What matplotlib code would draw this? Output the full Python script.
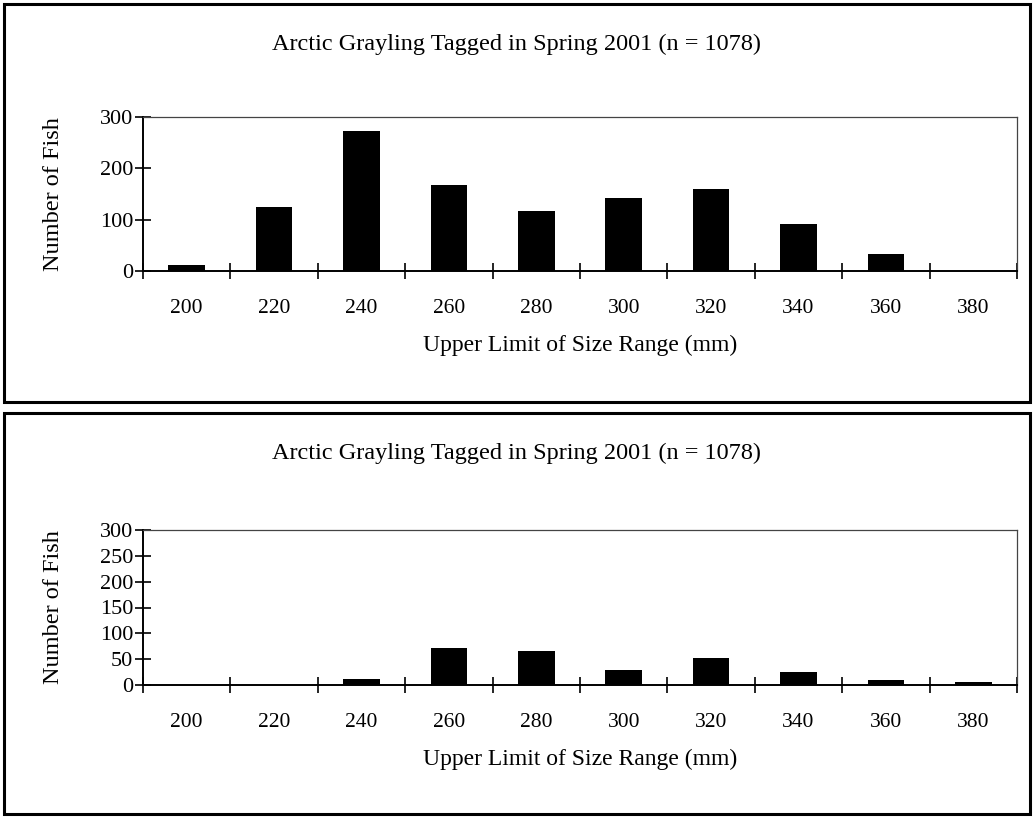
import numpy as np
import matplotlib
matplotlib.use("Agg")
import matplotlib.pyplot as plt
from matplotlib.patches import Rectangle

plt.rcParams["font.family"] = ["Liberation Serif", "DejaVu Serif"]

size_classes = [200, 220, 240, 260, 280, 300, 320, 340, 360, 380]
fish_top = [11, 125, 273, 167, 116, 143, 160, 91, 33, 0]
fish_bottom = [0, 0, 12, 71, 66, 30, 52, 26, 10, 5]
yticks_top = [0, 100, 200, 300]
yticks_bottom = [0, 50, 100, 150, 200, 250, 300]
title = "Arctic Grayling Tagged in Spring 2001 (n = 1078)"
xlabel = "Upper Limit of Size Range (mm)"
ylabel = "Number of Fish"

W, H = 1034, 817


def px(x0, y0, x1, y1):
    # pixel box (top-left origin) -> figure fraction [l, b, w, h]
    return [x0 / W, 1 - y1 / H, (x1 - x0) / W, (y1 - y0) / H]


def draw_panel(fig, box, plot, values, yticks):
    l, b, w, h = px(*box)
    fig.patches.append(Rectangle((l, b), w, h, transform=fig.transFigure,
                                 fill=False, edgecolor="black", linewidth=2.2))
    fig.text(0.5, 1 - (box[1] + 40) / H, title, ha="center", va="center", fontsize=17.5)

    ax = fig.add_axes(px(*plot))
    x = np.arange(len(size_classes))
    ax.bar(x, values, width=0.42, color="black")
    ax.set_xlim(-0.5, len(size_classes) - 0.5)
    ax.set_ylim(0, 300)
    ax.set_yticks(yticks)
    ax.set_xticks(np.arange(len(size_classes) + 1) - 0.5)
    ax.set_xticklabels([])
    ax.set_xticks(x, minor=True)
    ax.set_xticklabels([str(s) for s in size_classes], minor=True)
    ax.tick_params(axis="both", which="major", direction="inout", length=12, width=1.2,
                   labelsize=16, pad=1)
    ax.tick_params(axis="x", which="minor", length=0, labelsize=15.5, pad=20)
    for side in ["left", "bottom"]:
        ax.spines[side].set_linewidth(1.4)
    for side in ["top", "right"]:
        ax.spines[side].set_linewidth(0.9)
        ax.spines[side].set_color("#444444")
    ax.set_xlabel(xlabel, fontsize=17, labelpad=12)
    ax.set_ylabel(ylabel, fontsize=17.5)
    ax.yaxis.set_label_coords(-0.09, 0.5)
    return ax


fig = plt.figure(figsize=(W / 100, H / 100), dpi=100)
draw_panel(fig, (4, 4, 1030, 402), (143, 117, 1017, 271), fish_top, yticks_top)
draw_panel(fig, (4, 413, 1030, 814), (143, 530, 1017, 685), fish_bottom, yticks_bottom)
fig.savefig("out.png", dpi=100)
plt.close(fig)
